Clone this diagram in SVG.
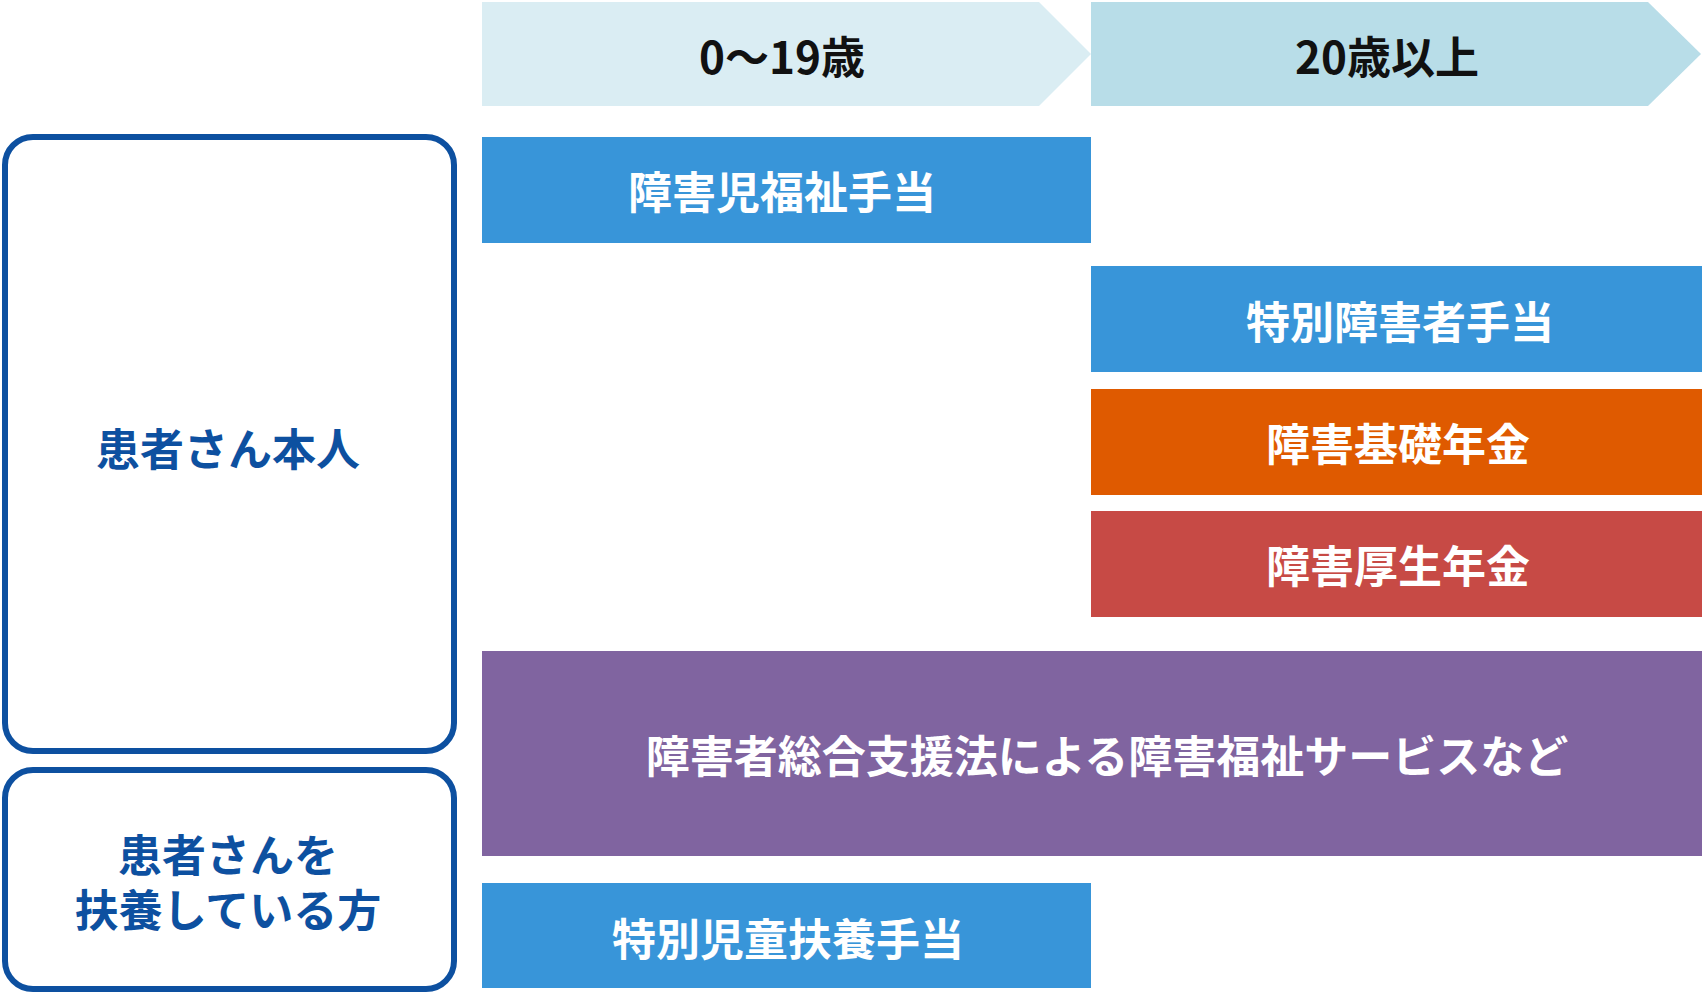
<svg xmlns="http://www.w3.org/2000/svg" width="1702" height="1001" viewBox="0 0 1702 1001">
<style>
text{font-family:"Noto Sans CJK JP","Noto Sans",sans-serif;font-weight:700;font-size:44px;text-anchor:middle;dominant-baseline:central}
.w{fill:#fff}.b{fill:#0d50a0}.k{fill:#111}
.box{fill:#fff;stroke:#0d50a0;stroke-width:6}
</style>
<rect width="1702" height="1001" fill="#fff"/>
<g id="h1"><polygon points="482,2 1039,2 1091,54 1039,106 482,106" fill="#daedf3"/><text class="k" x="782" y="55">0～19歳</text></g>
<g id="h2"><polygon points="1091,2 1648,2 1701,54 1648,106 1091,106" fill="#b8dde8"/><text class="k" x="1387" y="55">20歳以上</text></g>
<g id="self"><rect class="box" x="5" y="137" width="449" height="614" rx="28"/><text class="b" x="228" y="447">患者さん本人</text></g>
<g id="carer"><rect class="box" x="5" y="770" width="449" height="219" rx="28"/><text class="b" x="228" y="853">患者さんを</text><text class="b" x="228" y="908">扶養している方</text></g>
<g id="n1"><rect x="482" y="137" width="609" height="106" fill="#3895d9"/><text class="w" x="782" y="190">障害児福祉手当</text></g>
<g id="n2"><rect x="1091" y="266" width="611" height="106" fill="#3895d9"/><text class="w" x="1400" y="320">特別障害者手当</text></g>
<g id="n3"><rect x="1091" y="389" width="611" height="106" fill="#df5a00"/><text class="w" x="1398" y="442">障害基礎年金</text></g>
<g id="n4"><rect x="1091" y="511" width="611" height="106" fill="#c74a45"/><text class="w" x="1398" y="564">障害厚生年金</text></g>
<g id="n5"><rect x="482" y="651" width="1220" height="205" fill="#8064a0"/><text class="w" x="1107" y="754">障害者総合支援法による障害福祉サービスなど</text></g>
<g id="n6"><rect x="482" y="883" width="609" height="105" fill="#3895d9"/><text class="w" x="788" y="937">特別児童扶養手当</text></g>
<g id="connectors"/>
</svg>
